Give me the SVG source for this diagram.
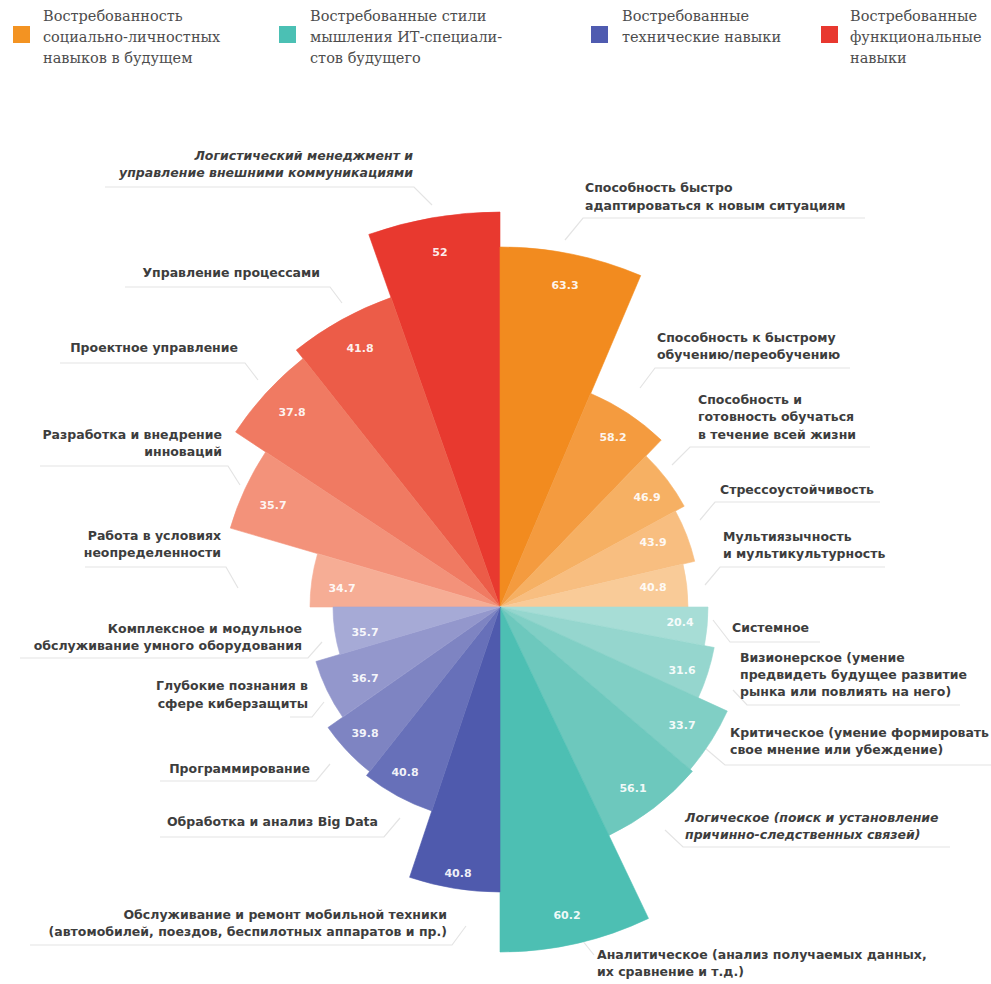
<svg xmlns="http://www.w3.org/2000/svg" width="991" height="984" viewBox="0 0 991 984">
<style>
.leg{font-family:"DejaVu Serif","Liberation Serif",serif;font-size:14.5px;fill:#4d4d4d}
.lbl{font-family:"DejaVu Sans","Liberation Sans",sans-serif;font-weight:bold;font-size:12.5px;fill:#3d3d3d}
.it{font-style:italic}
.end{text-anchor:end}
.val{font-family:"DejaVu Sans","Liberation Sans",sans-serif;font-weight:bold;font-size:11px;fill:#ffffff;fill-opacity:.92;text-anchor:middle}
.lead{fill:none;stroke:#e4e4e4;stroke-width:1.2}
</style>
<rect width="991" height="984" fill="#ffffff"/>
<g id="legend">
  <rect x="13" y="26" width="17" height="17" fill="#f39322"/>
  <text class="leg"><tspan x="43" y="21">Востребованность</tspan><tspan x="43" y="42">социально-личностных</tspan><tspan x="43" y="63">навыков в будущем</tspan></text>
  <rect x="279" y="26" width="17" height="17" fill="#4bc0b4"/>
  <text class="leg"><tspan x="310" y="21">Востребованные стили</tspan><tspan x="310" y="42">мышления ИТ-специали-</tspan><tspan x="310" y="63">стов будущего</tspan></text>
  <rect x="591" y="26" width="17" height="17" fill="#4f5bb0"/>
  <text class="leg"><tspan x="622" y="21">Востребованные</tspan><tspan x="622" y="42">технические навыки</tspan></text>
  <rect x="821" y="26" width="17" height="17" fill="#e8382f"/>
  <text class="leg"><tspan x="850" y="21">Востребованные</tspan><tspan x="850" y="42">функциональные</tspan><tspan x="850" y="63">навыки</tspan></text>
</g>
<g id="connectors">
  <polyline class="lead" points="432,205 414,187 105,187"/>
  <polyline class="lead" points="342,303 330,287 125,287"/>
  <polyline class="lead" points="258,380 245,363 60,363"/>
  <polyline class="lead" points="240,485 228,466 40,466"/>
  <polyline class="lead" points="238,588 226,567 85,567"/>
  <polyline class="lead" points="20,658 308,658 322,642"/>
  <polyline class="lead" points="290,717 312,717 324,702"/>
  <polyline class="lead" points="160,781 316,781 330,764"/>
  <polyline class="lead" points="160,837 384,837 400,818"/>
  <polyline class="lead" points="30,945 452,945 466,926"/>
  <polyline class="lead" points="565,240 583,218 865,218"/>
  <polyline class="lead" points="640,388 655,368 850,368"/>
  <polyline class="lead" points="672,465 690,447 870,447"/>
  <polyline class="lead" points="700,520 715,502 880,502"/>
  <polyline class="lead" points="705,585 720,567 885,567"/>
  <polyline class="lead" points="713,620 730,642 820,642"/>
  <polyline class="lead" points="733,690 747,705 960,705"/>
  <polyline class="lead" points="705,748 725,765 991,765"/>
  <polyline class="lead" points="665,830 683,847 950,847"/>
  <polyline class="lead" points="578,935 594,955"/>
</g>
<g id="func-logistics">
  <path d="M500,607 L368.8,234.4 A395,395 0 0 1 500,212 Z" fill="#e8392f" stroke="#e8392f" stroke-width=".6"/>
  <text class="val" x="440" y="256">52</text>
  <text class="lbl end it"><tspan x="413" y="160">Логистический менеджмент и</tspan><tspan x="413" y="177">управление внешними коммуникациями</tspan></text>
</g>
<g id="func-process">
  <path d="M500,607 L296.3,350 A328,328 0 0 1 391,297.6 Z" fill="#ec5c48" stroke="#ec5c48" stroke-width=".6"/>
  <text class="val" x="360" y="352">41.8</text>
  <text class="lbl end" x="320" y="277">Управление процессами</text>
</g>
<g id="func-project">
  <path d="M500,607 L235.6,432 A317,317 0 0 1 303.1,358.6 Z" fill="#f07a62" stroke="#f07a62" stroke-width=".6"/>
  <text class="val" x="292" y="416">37.8</text>
  <text class="lbl end" x="238" y="352">Проектное управление</text>
</g>
<g id="func-innov">
  <path d="M500,607 L230.3,528.1 A281,281 0 0 1 265.7,451.9 Z" fill="#f3927a" stroke="#f3927a" stroke-width=".6"/>
  <text class="val" x="273" y="509">35.7</text>
  <text class="lbl end"><tspan x="222" y="439">Разработка и внедрение</tspan><tspan x="222" y="456">инноваций</tspan></text>
</g>
<g id="func-uncert">
  <path d="M500,607 L310,607 A190,190 0 0 1 317.6,553.7 Z" fill="#f6ad95" stroke="#f6ad95" stroke-width=".6"/>
  <text class="val" x="342" y="592">34.7</text>
  <text class="lbl end"><tspan x="221" y="540">Работа в условиях</tspan><tspan x="221" y="557">неопределенности</tspan></text>
</g>
<g id="soc-adapt">
  <path d="M500,607 L500,247 A360,360 0 0 1 640.7,275.6 Z" fill="#f28b1f" stroke="#f28b1f" stroke-width=".6"/>
  <text class="val" x="565" y="289">63.3</text>
  <text class="lbl"><tspan x="585" y="192">Способность быстро</tspan><tspan x="585" y="210">адаптироваться к новым ситуациям</tspan></text>
</g>
<g id="soc-learn">
  <path d="M500,607 L590.6,393.4 A232,232 0 0 1 661.2,440.1 Z" fill="#f49b3f" stroke="#f49b3f" stroke-width=".6"/>
  <text class="val" x="613" y="441">58.2</text>
  <text class="lbl"><tspan x="657" y="342">Способность к быстрому</tspan><tspan x="657" y="359">обучению/переобучению</tspan></text>
</g>
<g id="soc-lifelong">
  <path d="M500,607 L645.9,455.9 A210,210 0 0 1 684.2,506.2 Z" fill="#f6b063" stroke="#f6b063" stroke-width=".6"/>
  <text class="val" x="647" y="501">46.9</text>
  <text class="lbl"><tspan x="698" y="404">Способность и</tspan><tspan x="698" y="421">готовность обучаться</tspan><tspan x="698" y="439">в течение всей жизни</tspan></text>
</g>
<g id="soc-stress">
  <path d="M500,607 L675.4,511 A200,200 0 0 1 694.7,561.3 Z" fill="#f8be80" stroke="#f8be80" stroke-width=".6"/>
  <text class="val" x="653" y="546">43.9</text>
  <text class="lbl" x="720" y="494">Стрессоустойчивость</text>
</g>
<g id="soc-multi">
  <path d="M500,607 L683,564.1 A188,188 0 0 1 688,607 Z" fill="#f9cb98" stroke="#f9cb98" stroke-width=".6"/>
  <text class="val" x="653" y="591">40.8</text>
  <text class="lbl"><tspan x="723" y="541">Мультиязычность</tspan><tspan x="723" y="558">и мультикультурность</tspan></text>
</g>
<g id="think-system">
  <path d="M500,607 L708,607 A208,208 0 0 1 704.4,645.6 Z" fill="#a7ddd6" stroke="#a7ddd6" stroke-width=".6"/>
  <text class="val" x="680" y="626">20.4</text>
  <text class="lbl" x="732" y="632">Системное</text>
</g>
<g id="think-vision">
  <path d="M500,607 L714.2,647.5 A218,218 0 0 1 698.2,697.8 Z" fill="#95d6ce" stroke="#95d6ce" stroke-width=".6"/>
  <text class="val" x="682" y="674">31.6</text>
  <text class="lbl"><tspan x="740" y="662">Визионерское (умение</tspan><tspan x="740" y="679">предвидеть будущее развитие</tspan><tspan x="740" y="696">рынка или повлиять на него)</tspan></text>
</g>
<g id="think-critical">
  <path d="M500,607 L727.3,711.1 A250,250 0 0 1 690.1,769.4 Z" fill="#80cfc5" stroke="#80cfc5" stroke-width=".6"/>
  <text class="val" x="682" y="729">33.7</text>
  <text class="lbl"><tspan x="730" y="737">Критическое (умение формировать</tspan><tspan x="730" y="754">свое мнение или убеждение)</tspan></text>
</g>
<g id="think-logic">
  <path d="M500,607 L692.4,771.3 A253,253 0 0 1 608.9,835.4 Z" fill="#6dc8bd" stroke="#6dc8bd" stroke-width=".6"/>
  <text class="val" x="633" y="792">56.1</text>
  <text class="lbl it"><tspan x="685" y="822">Логическое (поиск и установление</tspan><tspan x="685" y="839">причинно-следственных связей)</tspan></text>
</g>
<g id="think-analytic">
  <path d="M500,607 L648.5,918.4 A345,345 0 0 1 500,952 Z" fill="#4dbfb3" stroke="#4dbfb3" stroke-width=".6"/>
  <text class="val" x="567" y="919">60.2</text>
  <text class="lbl"><tspan x="597" y="959">Аналитическое (анализ получаемых данных,</tspan><tspan x="597" y="976">их сравнение и т.д.)</tspan></text>
</g>
<g id="tech-mobile">
  <path d="M500,607 L500,892 A285,285 0 0 1 409.6,877.3 Z" fill="#4f5aad" stroke="#4f5aad" stroke-width=".6"/>
  <text class="val" x="458" y="877">40.8</text>
  <text class="lbl end"><tspan x="447" y="919">Обслуживание и ремонт мобильной техники</tspan><tspan x="447" y="936">(автомобилей, поездов, беспилотных аппаратов и пр.)</tspan></text>
</g>
<g id="tech-bigdata">
  <path d="M500,607 L431.8,810.9 A215,215 0 0 1 366.5,775.5 Z" fill="#6770b9" stroke="#6770b9" stroke-width=".6"/>
  <text class="val" x="405" y="776">40.8</text>
  <text class="lbl end" x="378" y="826">Обработка и анализ Big Data</text>
</g>
<g id="tech-prog">
  <path d="M500,607 L369.6,771.6 A210,210 0 0 1 328,727.5 Z" fill="#7e84c2" stroke="#7e84c2" stroke-width=".6"/>
  <text class="val" x="365" y="737">39.8</text>
  <text class="lbl end" x="310" y="773">Программирование</text>
</g>
<g id="tech-cyber">
  <path d="M500,607 L342.7,717.1 A192,192 0 0 1 315.9,661.5 Z" fill="#9397cc" stroke="#9397cc" stroke-width=".6"/>
  <text class="val" x="365" y="682">36.7</text>
  <text class="lbl end"><tspan x="308" y="690">Глубокие познания в</tspan><tspan x="308" y="708">сфере киберзащиты</tspan></text>
</g>
<g id="tech-smart">
  <path d="M500,607 L339.9,654.4 A167,167 0 0 1 333,607 Z" fill="#a6aad6" stroke="#a6aad6" stroke-width=".6"/>
  <text class="val" x="365" y="636">35.7</text>
  <text class="lbl end"><tspan x="302" y="633">Комплексное и модульное</tspan><tspan x="302" y="650">обслуживание умного оборудования</tspan></text>
</g>
</svg>
